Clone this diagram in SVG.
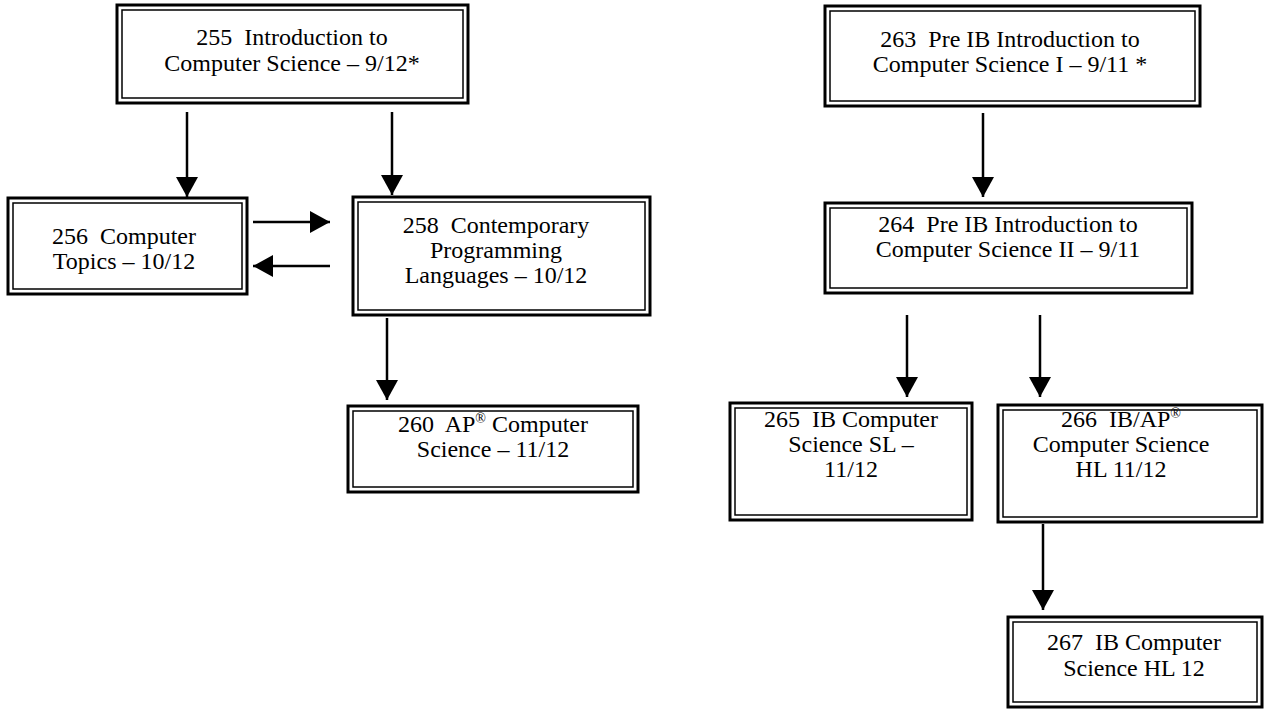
<svg xmlns="http://www.w3.org/2000/svg" width="1271" height="709" viewBox="0 0 1271 709">
<defs>
<style>
.o{fill:#fff;stroke:#000;stroke-width:3}
.i{fill:none;stroke:#000;stroke-width:1.5}
.t{font-family:"Liberation Serif","Times New Roman",serif;font-size:24px;fill:#000;text-anchor:middle;white-space:pre}
.c{stroke:#000;stroke-width:2.5;fill:none;marker-end:url(#ah)}
.sup{font-size:14px}
</style>
<marker id="ah" viewBox="0 0 20 22" refX="20" refY="11" markerWidth="20" markerHeight="22" markerUnits="userSpaceOnUse" orient="auto">
<path d="M0,0 L20,11 L0,22 Z" fill="#000"/>
</marker>
</defs>
<rect width="1271" height="709" fill="#fff"/>
<g id="connectors">
<line class="c" x1="187" y1="112" x2="187" y2="197"/>
<line class="c" x1="392" y1="112" x2="392" y2="195"/>
<line class="c" x1="253" y1="222" x2="330" y2="222"/>
<line class="c" x1="330" y1="266" x2="253" y2="266"/>
<line class="c" x1="387" y1="318" x2="387" y2="400"/>
<line class="c" x1="983" y1="113" x2="983" y2="197"/>
<line class="c" x1="907" y1="315" x2="907" y2="397"/>
<line class="c" x1="1040" y1="315" x2="1040" y2="397"/>
<line class="c" x1="1043" y1="524" x2="1043" y2="610"/>
</g>
<g id="n255">
<rect class="o" x="117" y="5" width="351" height="98"/>
<rect class="i" x="122" y="10" width="341" height="88"/>
<text class="t" x="292" y="45">255  Introduction to</text>
<text class="t" x="292" y="71">Computer Science – 9/12*</text>
</g>
<g id="n256">
<rect class="o" x="8" y="198" width="239" height="96"/>
<rect class="i" x="13" y="203" width="229" height="86"/>
<text class="t" x="124" y="244">256  Computer</text>
<text class="t" x="124" y="269">Topics – 10/12</text>
</g>
<g id="n258">
<rect class="o" x="353" y="197" width="297" height="118"/>
<rect class="i" x="358" y="202" width="287" height="108"/>
<text class="t" x="496" y="233">258  Contemporary</text>
<text class="t" x="496" y="258">Programming</text>
<text class="t" x="496" y="283">Languages – 10/12</text>
</g>
<g id="n260">
<rect class="o" x="348" y="406" width="290" height="86"/>
<rect class="i" x="353" y="411" width="280" height="76"/>
<text class="t" x="493" y="432">260  AP<tspan class="sup" dy="-9">®</tspan><tspan dy="9"> Computer</tspan></text>
<text class="t" x="493" y="457">Science – 11/12</text>
</g>
<g id="n263">
<rect class="o" x="825" y="6" width="375" height="100"/>
<rect class="i" x="830" y="11" width="365" height="90"/>
<text class="t" x="1010" y="47">263  Pre IB Introduction to</text>
<text class="t" x="1010" y="72">Computer Science I – 9/11 *</text>
</g>
<g id="n264">
<rect class="o" x="825" y="203" width="367" height="90"/>
<rect class="i" x="830" y="208" width="357" height="80"/>
<text class="t" x="1008" y="232">264  Pre IB Introduction to</text>
<text class="t" x="1008" y="257">Computer Science II – 9/11</text>
</g>
<g id="n265">
<rect class="o" x="730" y="403" width="242" height="117"/>
<rect class="i" x="735" y="408" width="232" height="107"/>
<text class="t" x="851" y="427">265  IB Computer</text>
<text class="t" x="851" y="452">Science SL –</text>
<text class="t" x="851" y="477">11/12</text>
</g>
<g id="n266">
<rect class="o" x="998" y="405" width="264" height="117"/>
<rect class="i" x="1003" y="410" width="254" height="107"/>
<text class="t" x="1121" y="427">266  IB/AP<tspan class="sup" dy="-9">®</tspan></text>
<text class="t" x="1121" y="452">Computer Science</text>
<text class="t" x="1121" y="477">HL 11/12</text>
</g>
<g id="n267">
<rect class="o" x="1008" y="617" width="254" height="90"/>
<rect class="i" x="1013" y="622" width="244" height="80"/>
<text class="t" x="1134" y="650">267  IB Computer</text>
<text class="t" x="1134" y="676">Science HL 12</text>
</g>
</svg>
